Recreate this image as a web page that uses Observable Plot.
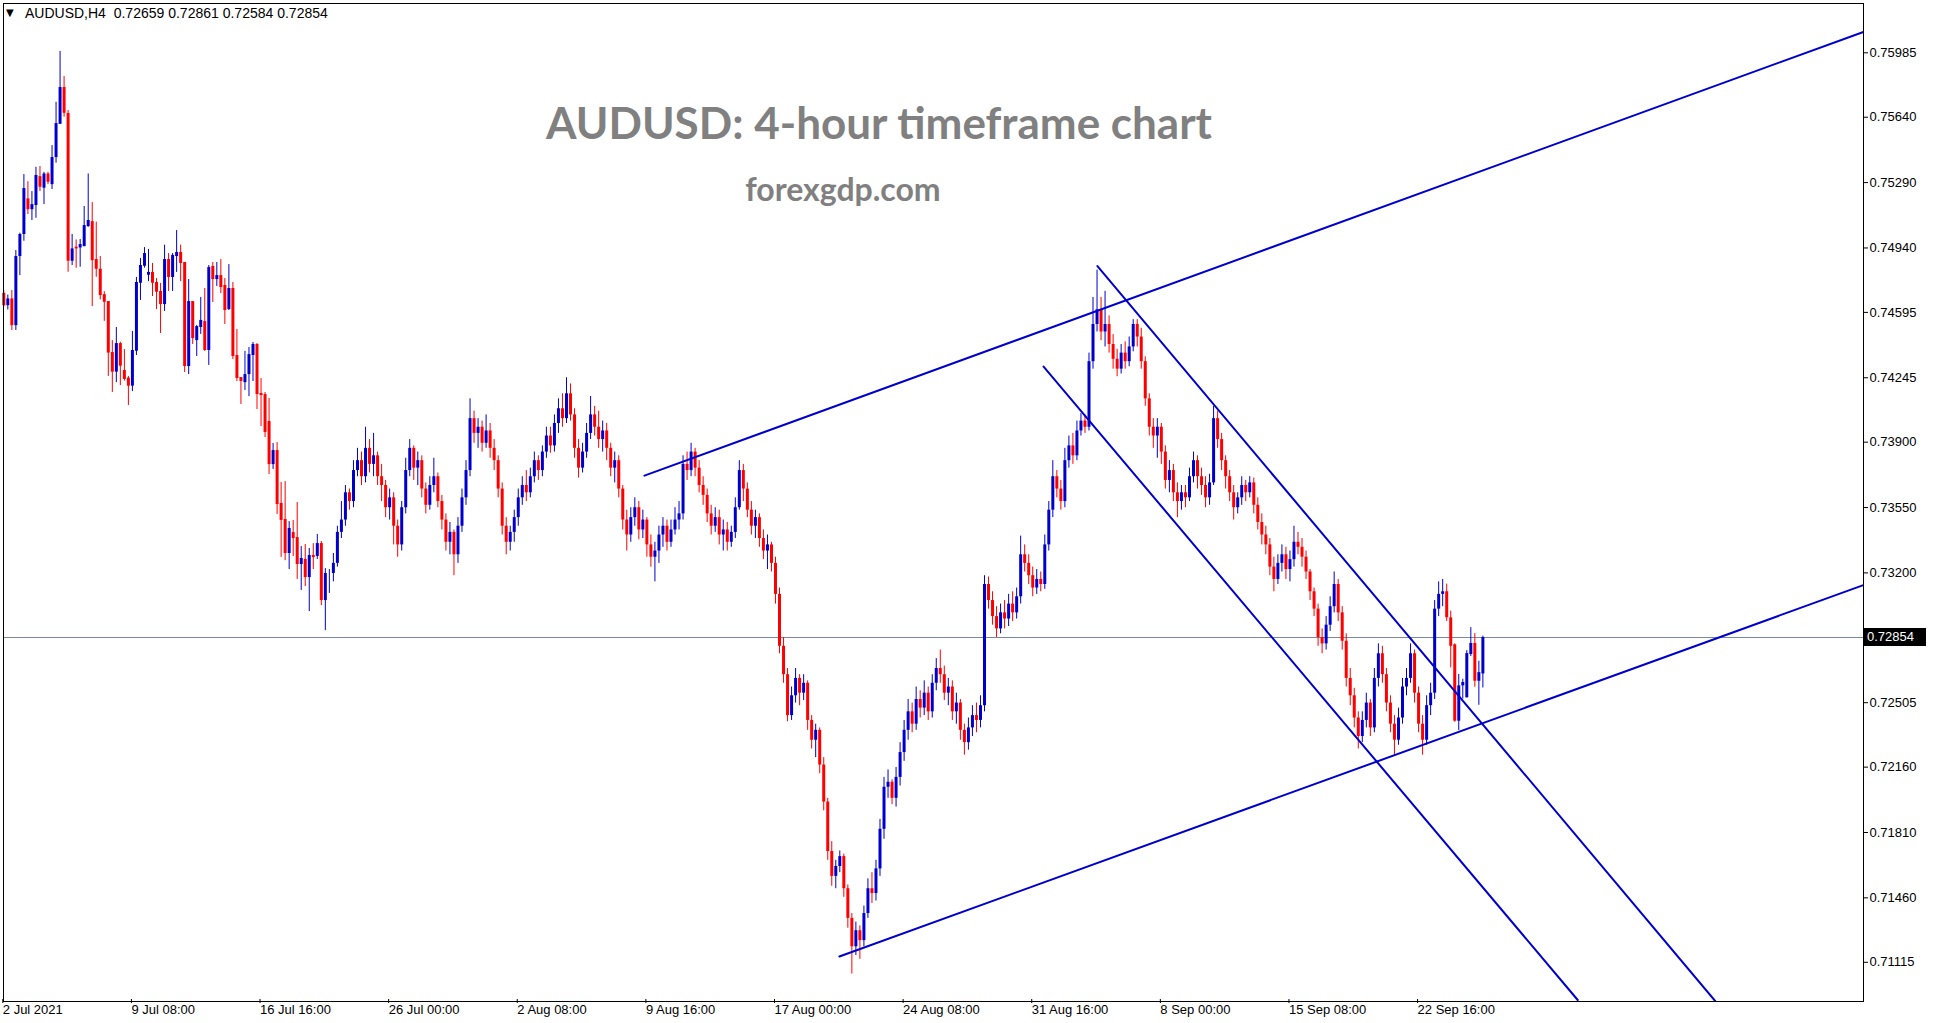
<!DOCTYPE html>
<html><head><meta charset="utf-8">
<script src="https://cdn.jsdelivr.net/npm/d3@7"></script>
<script src="https://cdn.jsdelivr.net/npm/@observablehq/plot@0.6"></script>
<style>
html,body{margin:0;padding:0;background:#fff;}
#wrap{position:relative;width:1933px;height:1023px;overflow:hidden;}
.hdr{position:absolute;left:25px;top:5px;font:14px "Liberation Sans",Arial,sans-serif;color:#000;white-space:pre;}
.tri{position:absolute;left:6px;top:7px;font:10px "DejaVu Sans",sans-serif;color:#000;}
.ttl{position:absolute;font-family:Lato,"Open Sans",sans-serif;font-weight:700;color:#808080;white-space:nowrap;transform:translateX(-50%);line-height:1;}
.tag{position:absolute;left:1863px;width:63px;height:18px;background:#000;color:#fff;font:13px "Liberation Sans",Arial,sans-serif;line-height:18px;padding-left:4px;box-sizing:border-box;}
</style></head><body><div id="wrap"></div>
<script>
const opens=[0.74697,0.74631,0.74667,0.74524,0.74894,0.75012,0.75203,0.75145,0.75167,0.75322,0.75260,0.75336,0.75279,0.75424,0.75602,0.75799,0.75660,0.74869,0.74944,0.74940,0.74947,0.75054,0.75081,0.74878,0.74826,0.74690,0.74653,0.74380,0.74275,0.74428,0.74284,0.74243,0.74200,0.74387,0.74751,0.74842,0.74794,0.74809,0.74755,0.74707,0.74637,0.74878,0.74782,0.74894,0.74916,0.74862,0.74305,0.74653,0.74444,0.74514,0.74546,0.74391,0.74841,0.74771,0.74792,0.74739,0.74610,0.74723,0.74364,0.74246,0.74219,0.74262,0.74364,0.74423,0.74161,0.74155,0.74011,0.73780,0.73855,0.73572,0.73486,0.73304,0.73416,0.73389,0.73245,0.73272,0.73175,0.73293,0.73288,0.73357,0.73052,0.73197,
0.73197,0.73251,0.73417,0.73483,0.73629,0.73582,0.73748,0.73801,0.73715,0.73867,
0.73781,0.73827,0.73715,0.73668,0.73549,0.73602,0.73450,0.73350,0.73549,0.73748,
0.73867,0.73761,0.73801,0.73649,0.73562,0.73668,0.73715,0.73582,0.73483,0.73364,
0.73417,0.73297,0.73450,0.73602,0.73748,0.74026,0.73947,0.73980,0.73894,0.73960,
0.73867,0.73801,0.73649,0.73450,0.73364,0.73417,0.73496,0.73602,0.73668,0.73629,
0.73715,0.73801,0.73748,0.73847,0.73933,0.73880,0.74000,0.74079,0.74026,0.74159,
0.74046,0.73867,0.73761,0.73847,0.73947,0.74046,0.73980,0.73914,0.73960,0.73867,
0.73761,0.73801,0.73649,0.73483,0.73403,0.73496,0.73549,0.73430,0.73483,0.73350,
0.73284,0.73317,0.73403,0.73450,0.73364,0.73430,0.73483,0.73516,0.73781,0.73748,
0.73847,0.73761,0.73668,0.73615,0.73516,0.73450,0.73496,0.73403,0.73430,0.73364,
0.73417,0.73549,0.73748,0.73649,0.73536,0.73450,0.73496,0.73384,0.73317,0.73350,
0.73251,0.73085,0.72807,0.72655,0.72436,0.72542,0.72635,0.72556,0.72609,0.72410,
0.72304,0.72357,0.72171,0.71973,0.71708,0.71575,0.71628,0.71681,0.71509,0.71350,
0.71198,0.71284,0.71231,0.71376,0.71509,0.71483,0.71615,0.71827,0.72052,0.72079,
0.71993,0.72105,0.72238,0.72357,0.72456,0.72390,0.72522,0.72476,0.72556,0.72456,
0.72609,0.72688,0.72655,0.72556,0.72589,0.72456,0.72503,0.72357,0.72291,0.72370,
0.72436,0.72410,0.72489,0.73138,0.73052,0.72966,0.72900,0.72986,0.72953,0.73033,
0.72986,0.73072,0.73297,0.73251,0.73185,0.73119,0.73165,0.73138,0.73350,0.73536,
0.73715,0.73649,0.73582,0.73801,0.73880,0.73827,0.73960,0.74013,0.73980,0.74331,
0.74530,0.74609,0.74490,0.74530,0.74423,0.74344,0.74291,0.74377,0.74331,0.74410,
0.74530,0.74463,0.74331,0.74132,0.73980,0.73933,0.73980,0.73847,0.73695,0.73748,
0.73629,0.73582,0.73629,0.73602,0.73715,0.73801,0.73715,0.73668,0.73602,0.73682,
0.74026,0.73914,0.73801,0.73715,0.73629,0.73549,0.73602,0.73668,0.73629,0.73682,
0.73562,0.73470,0.73403,0.73350,0.73231,0.73165,0.73251,0.73297,0.73218,0.73271,
0.73364,0.73337,0.73284,0.73205,0.73099,0.73006,0.72854,0.72820,0.72920,0.73019,
0.73138,0.72986,0.72834,0.72635,0.72542,0.72423,0.72324,0.72410,0.72503,0.72370,
0.72635,0.72767,0.72655,0.72503,0.72390,0.72304,0.72423,0.72589,0.72635,0.72767,
0.72556,0.72390,0.72304,0.72489,0.72556,0.73006,0.73085,0.73099,
0.72959,0.72815,0.72406,0.72595,0.72531,0.72763,0.72822,0.72620,0.72659];
const highs=[0.74712,0.74688,0.74712,0.74926,0.75019,0.75333,0.75295,0.75242,0.75372,0.75376,0.75345,0.75345,0.75488,0.75720,0.75992,0.75858,0.75676,0.75012,0.74983,0.74985,0.75162,0.75336,0.75183,0.75078,0.74894,0.74706,0.74653,0.74444,0.74514,0.74435,0.74396,0.74252,0.74493,0.74782,0.74884,0.74942,0.74932,0.74857,0.74776,0.74750,0.74955,0.74910,0.74910,0.75033,0.74955,0.74862,0.74771,0.74653,0.74525,0.74675,0.74723,0.74846,0.74862,0.74862,0.74878,0.74776,0.74851,0.74755,0.74503,0.74246,0.74386,0.74407,0.74434,0.74428,0.74241,0.74166,0.74134,0.73893,0.73898,0.73684,0.73689,0.73475,0.73481,0.73577,0.73341,0.73352,0.73331,0.73357,0.73406,0.73368,0.73223,0.73218,
0.73304,0.73450,0.73582,0.73668,0.73649,0.73801,0.73867,0.73847,0.73980,0.73914,
0.73947,0.73847,0.73781,0.73695,0.73649,0.73629,0.73483,0.73582,0.73814,0.73914,
0.73880,0.73847,0.73827,0.73682,0.73715,0.73814,0.73735,0.73615,0.73516,0.73470,
0.73430,0.73496,0.73649,0.73801,0.74132,0.74066,0.74026,0.74013,0.74046,0.74000,
0.73914,0.73827,0.73682,0.73496,0.73450,0.73536,0.73649,0.73715,0.73748,0.73761,
0.73847,0.73827,0.73880,0.73980,0.73980,0.74046,0.74132,0.74159,0.74245,0.74212,
0.74079,0.73914,0.73894,0.74000,0.74145,0.74092,0.74066,0.74013,0.74000,0.73894,
0.73847,0.73827,0.73668,0.73536,0.73549,0.73602,0.73582,0.73536,0.73496,0.73403,
0.73364,0.73450,0.73496,0.73483,0.73483,0.73549,0.73582,0.73827,0.73847,0.73894,
0.73867,0.73801,0.73715,0.73649,0.73562,0.73549,0.73536,0.73483,0.73470,0.73450,
0.73602,0.73801,0.73781,0.73682,0.73582,0.73536,0.73516,0.73430,0.73403,0.73364,
0.73284,0.73119,0.72854,0.72688,0.72589,0.72688,0.72655,0.72655,0.72622,0.72436,
0.72390,0.72370,0.72211,0.71993,0.71761,0.71661,0.71711,0.71694,0.71529,0.71376,
0.71330,0.71310,0.71416,0.71562,0.71595,0.71661,0.71880,0.72105,0.72145,0.72092,
0.72158,0.72291,0.72410,0.72522,0.72503,0.72589,0.72569,0.72622,0.72589,0.72655,
0.72741,0.72787,0.72701,0.72635,0.72622,0.72556,0.72522,0.72390,0.72423,0.72489,
0.72503,0.72542,0.73185,0.73178,0.73099,0.73019,0.73033,0.73052,0.73085,0.73099,
0.73119,0.73397,0.73350,0.73297,0.73231,0.73218,0.73205,0.73403,0.73582,0.73801,
0.73748,0.73695,0.73867,0.73933,0.73947,0.74013,0.74053,0.74046,0.74377,0.74675,
0.74821,0.74675,0.74708,0.74576,0.74476,0.74397,0.74423,0.74437,0.74463,0.74556,
0.74556,0.74510,0.74357,0.74159,0.74026,0.74026,0.74000,0.73880,0.73801,0.73781,
0.73682,0.73668,0.73668,0.73761,0.73847,0.73827,0.73761,0.73715,0.73728,0.74092,
0.74066,0.73947,0.73827,0.73748,0.73668,0.73629,0.73715,0.73695,0.73715,0.73708,
0.73602,0.73516,0.73450,0.73384,0.73284,0.73297,0.73350,0.73337,0.73317,0.73450,
0.73417,0.73384,0.73317,0.73218,0.73119,0.73033,0.72900,0.72966,0.73072,0.73205,
0.73165,0.73019,0.72874,0.72688,0.72582,0.72456,0.72456,0.72556,0.72522,0.72688,
0.72820,0.72807,0.72688,0.72542,0.72436,0.72476,0.72635,0.72688,0.72820,0.72787,
0.72589,0.72436,0.72542,0.72609,0.73052,0.73152,0.73165,0.73140,
0.72995,0.72820,0.72656,0.72631,0.72784,0.72907,0.72875,0.72727,0.72861];
const lows=[0.74626,0.74608,0.74498,0.74498,0.74792,0.74976,0.75119,0.75087,0.75099,0.75242,0.75172,0.75279,0.75253,0.75394,0.75602,0.75640,0.74810,0.74846,0.74831,0.74837,0.74947,0.75051,0.74626,0.74783,0.74662,0.74547,0.74252,0.74166,0.74219,0.74203,0.74227,0.74096,0.74171,0.74364,0.74659,0.74832,0.74760,0.74680,0.74610,0.74482,0.74600,0.74707,0.74707,0.74809,0.74760,0.74273,0.74262,0.74423,0.74359,0.74477,0.74386,0.74311,0.74648,0.74734,0.74696,0.74530,0.74605,0.74343,0.74225,0.74102,0.74177,0.74144,0.74225,0.74075,0.73984,0.73925,0.73727,0.73754,0.73513,0.73283,0.73266,0.73218,0.73288,0.73165,0.73106,0.73127,0.72993,0.73218,0.73272,0.73025,0.72891,0.73090,
0.73152,0.73231,0.73384,0.73450,0.73536,0.73549,0.73715,0.73668,0.73682,0.73735,
0.73715,0.73668,0.73582,0.73496,0.73483,0.73350,0.73284,0.73317,0.73516,0.73715,
0.73695,0.73668,0.73602,0.73516,0.73536,0.73629,0.73549,0.73430,0.73317,0.73297,
0.73185,0.73251,0.73417,0.73562,0.73715,0.73894,0.73867,0.73847,0.73867,0.73814,
0.73748,0.73602,0.73403,0.73297,0.73317,0.73364,0.73450,0.73562,0.73582,0.73602,
0.73682,0.73695,0.73715,0.73814,0.73841,0.73847,0.73947,0.73980,0.74000,0.74013,
0.73814,0.73708,0.73735,0.73814,0.73914,0.73933,0.73867,0.73847,0.73801,0.73715,
0.73682,0.73602,0.73430,0.73317,0.73364,0.73450,0.73377,0.73384,0.73284,0.73231,
0.73152,0.73251,0.73337,0.73317,0.73337,0.73403,0.73430,0.73483,0.73695,0.73715,
0.73715,0.73629,0.73562,0.73470,0.73403,0.73417,0.73350,0.73317,0.73317,0.73337,
0.73384,0.73536,0.73582,0.73496,0.73403,0.73384,0.73337,0.73271,0.73218,0.73205,
0.73033,0.72767,0.72609,0.72403,0.72410,0.72503,0.72489,0.72516,0.72357,0.72257,
0.72211,0.72125,0.71926,0.71661,0.71522,0.71509,0.71595,0.71463,0.71297,0.71052,
0.71151,0.71131,0.71198,0.71350,0.71430,0.71443,0.71575,0.71774,0.71993,0.71959,
0.71946,0.72059,0.72191,0.72304,0.72344,0.72357,0.72423,0.72436,0.72410,0.72423,
0.72569,0.72609,0.72516,0.72489,0.72410,0.72390,0.72304,0.72224,0.72251,0.72324,
0.72344,0.72370,0.72456,0.73006,0.72920,0.72854,0.72874,0.72900,0.72913,0.72940,
0.72953,0.73033,0.73205,0.73138,0.73072,0.73085,0.73099,0.73112,0.73317,0.73496,
0.73602,0.73536,0.73549,0.73761,0.73781,0.73801,0.73933,0.73947,0.73960,0.74291,
0.74490,0.74443,0.74410,0.74377,0.74291,0.74251,0.74265,0.74291,0.74304,0.74384,
0.74410,0.74291,0.74092,0.73933,0.73867,0.73814,0.73781,0.73649,0.73629,0.73582,
0.73496,0.73536,0.73549,0.73582,0.73682,0.73649,0.73615,0.73549,0.73562,0.73668,
0.73867,0.73748,0.73649,0.73582,0.73483,0.73516,0.73562,0.73582,0.73602,0.73516,
0.73430,0.73350,0.73297,0.73185,0.73099,0.73138,0.73205,0.73165,0.73152,0.73231,
0.73297,0.73231,0.73165,0.73052,0.72966,0.72807,0.72767,0.72787,0.72887,0.72986,
0.72940,0.72787,0.72589,0.72489,0.72370,0.72257,0.72291,0.72370,0.72324,0.72344,
0.72589,0.72609,0.72456,0.72344,0.72224,0.72277,0.72390,0.72542,0.72609,0.72503,
0.72344,0.72224,0.72277,0.72436,0.72522,0.72966,0.73019,0.72940,
0.72691,0.72400,0.72356,0.72524,0.72531,0.72752,0.72588,0.72491,0.72584];
const closes=[0.74630,0.74667,0.74524,0.74894,0.75012,0.75258,0.75145,0.75172,0.75328,0.75265,0.75336,0.75292,0.75424,0.75606,0.75799,0.75661,0.74869,0.74935,0.74935,0.74958,0.75060,0.75087,0.74872,0.74826,0.74685,0.74649,0.74377,0.74275,0.74428,0.74307,0.74236,0.74200,0.74391,0.74755,0.74846,0.74910,0.74809,0.74751,0.74703,0.74637,0.74878,0.74782,0.74900,0.74916,0.74857,0.74305,0.74653,0.74455,0.74519,0.74552,0.74391,0.74835,0.74771,0.74792,0.74728,0.74605,0.74723,0.74359,0.74241,0.74225,0.74262,0.74369,0.74423,0.74155,0.74150,0.73952,0.73780,0.73855,0.73566,0.73481,0.73304,0.73438,0.73384,0.73245,0.73277,0.73175,0.73293,0.73282,0.73357,0.73052,0.73197,0.73197,
0.73251,0.73417,0.73483,0.73629,0.73582,0.73748,0.73801,0.73715,0.73867,0.73781,
0.73827,0.73715,0.73668,0.73549,0.73602,0.73450,0.73350,0.73549,0.73748,0.73867,
0.73761,0.73801,0.73649,0.73562,0.73668,0.73715,0.73582,0.73483,0.73364,0.73417,
0.73297,0.73450,0.73602,0.73748,0.74026,0.73947,0.73980,0.73894,0.73960,0.73867,
0.73801,0.73649,0.73450,0.73364,0.73417,0.73496,0.73602,0.73668,0.73629,0.73715,
0.73801,0.73748,0.73847,0.73933,0.73880,0.74000,0.74079,0.74026,0.74159,0.74046,
0.73867,0.73761,0.73847,0.73947,0.74046,0.73980,0.73914,0.73960,0.73867,0.73761,
0.73801,0.73649,0.73483,0.73403,0.73496,0.73549,0.73430,0.73483,0.73350,0.73284,
0.73317,0.73403,0.73450,0.73364,0.73430,0.73483,0.73516,0.73781,0.73748,0.73847,
0.73761,0.73668,0.73615,0.73516,0.73450,0.73496,0.73403,0.73430,0.73364,0.73417,
0.73549,0.73748,0.73649,0.73536,0.73450,0.73496,0.73384,0.73317,0.73350,0.73251,
0.73085,0.72807,0.72655,0.72436,0.72542,0.72635,0.72556,0.72609,0.72410,0.72304,
0.72357,0.72171,0.71973,0.71708,0.71575,0.71628,0.71681,0.71509,0.71350,0.71198,
0.71284,0.71231,0.71376,0.71509,0.71483,0.71615,0.71827,0.72052,0.72079,0.71993,
0.72105,0.72238,0.72357,0.72456,0.72390,0.72522,0.72476,0.72556,0.72456,0.72609,
0.72688,0.72655,0.72556,0.72589,0.72456,0.72503,0.72357,0.72291,0.72370,0.72436,
0.72410,0.72489,0.73138,0.73052,0.72966,0.72900,0.72986,0.72953,0.73033,0.72986,
0.73072,0.73297,0.73251,0.73185,0.73119,0.73165,0.73138,0.73350,0.73536,0.73715,
0.73649,0.73582,0.73801,0.73880,0.73827,0.73960,0.74013,0.73980,0.74331,0.74530,
0.74609,0.74490,0.74530,0.74423,0.74344,0.74291,0.74377,0.74331,0.74410,0.74530,
0.74463,0.74331,0.74132,0.73980,0.73933,0.73980,0.73847,0.73695,0.73748,0.73629,
0.73582,0.73629,0.73602,0.73715,0.73801,0.73715,0.73668,0.73602,0.73682,0.74026,
0.73914,0.73801,0.73715,0.73629,0.73549,0.73602,0.73668,0.73629,0.73682,0.73562,
0.73470,0.73403,0.73350,0.73231,0.73165,0.73251,0.73297,0.73218,0.73271,0.73364,
0.73337,0.73284,0.73205,0.73099,0.73006,0.72854,0.72820,0.72920,0.73019,0.73138,
0.72986,0.72834,0.72635,0.72542,0.72423,0.72324,0.72410,0.72503,0.72370,0.72635,
0.72767,0.72655,0.72503,0.72390,0.72304,0.72423,0.72589,0.72635,0.72767,0.72556,
0.72390,0.72304,0.72489,0.72556,0.73006,0.73085,0.73099,0.72960,
0.72807,0.72406,0.72595,0.72613,0.72768,0.72822,0.72620,0.72666,0.72854];

const lastPrice=0.72854;
const headerText="AUDUSD,H4  0.72659 0.72861 0.72584 0.72854";
const titleText="AUDUSD: 4-hour timeframe chart";
const subtitleText="forexgdp.com";
const xTickIndex=[0,32,64,96,128,160,192,224,256,288,320,352];
const xTickLabels=["2 Jul 2021","9 Jul 08:00","16 Jul 16:00","26 Jul 00:00","2 Aug 08:00","9 Aug 16:00","17 Aug 00:00","24 Aug 08:00","31 Aug 16:00","8 Sep 00:00","15 Sep 08:00","22 Sep 16:00"];
const yTicks=[0.75985,0.75640,0.75290,0.74940,0.74595,0.74245,0.73900,0.73550,0.73200,0.72505,0.72160,0.71810,0.71460,0.71115];
// trend lines: [bar index, price] endpoints
const upperChannel=[[159.4,0.73721],[462.7,0.76097]];
const lowerChannel=[[207.9,0.71146],[462.7,0.73135]];
const downUpper=[[272.1,0.74843],[425.9,0.70905]];
const downLower=[[258.7,0.74305],[391.6,0.70913]];

const bars=closes.map((c,i)=>({i,o:opens[i],h:highs[i],l:lows[i],c}));
const up=bars.filter(d=>d.c>=d.o), dn=bars.filter(d=>d.c<d.o);
const BLUE="#0000cc", RED="#ff0000";
const trend=(pts)=>Plot.line(pts,{x:d=>d[0],y:d=>d[1],stroke:BLUE,strokeWidth:2,clip:true});

const plot=Plot.plot({
  width:1933,height:1023,marginTop:3,marginBottom:22,marginLeft:3,marginRight:70,
  style:{background:"#fff",fontFamily:"'Liberation Sans',Arial,sans-serif",fontSize:"13px",color:"#000",overflow:"visible"},
  x:{type:"linear",domain:[-0.075,462.7],label:null},
  y:{domain:[0.70905,0.76249],label:null},
  marks:[
    Plot.ruleY([lastPrice],{stroke:"#778899",strokeWidth:1}),
    Plot.ruleX(up,{x:"i",y1:"l",y2:"h",stroke:BLUE,strokeWidth:1}),
    Plot.ruleX(dn,{x:"i",y1:"l",y2:"h",stroke:RED,strokeWidth:1}),
    Plot.ruleX(up,{x:"i",y1:"o",y2:"c",stroke:BLUE,strokeWidth:3}),
    Plot.ruleX(dn,{x:"i",y1:"o",y2:"c",stroke:RED,strokeWidth:3}),
    trend(upperChannel),trend(lowerChannel),trend(downUpper),trend(downLower),
    Plot.frame({stroke:"#000"}),
    Plot.axisY(yTicks,{anchor:"right",tickSize:4,tickPadding:2,tickFormat:d=>d.toFixed(5),fill:"#000",label:null}),
    Plot.axisX(xTickIndex,{anchor:"bottom",tickSize:4,tickPadding:1,textAnchor:"start",dx:-1,dy:-2,tickFormat:d=>xTickLabels[xTickIndex.indexOf(d)],fill:"#000",label:null})
  ]
});
const wrap=document.getElementById("wrap");
wrap.appendChild(plot);
const add=(cls,txt,css)=>{const d=document.createElement("div");d.className=cls;d.textContent=txt;Object.assign(d.style,css);wrap.appendChild(d);return d;};
// current price tag on the price axis, placed with the plot's y scale
const py=plot.scale("y").apply(lastPrice);
add("tag",lastPrice.toFixed(5),{top:(py-9)+"px"});
add("tri","\u25BC",{});
add("hdr",headerText,{});
add("ttl",titleText,{left:"879px",top:"100px",fontSize:"44px"});
add("ttl",subtitleText,{left:"843px",top:"173px",fontSize:"32px"});
</script></body></html>
